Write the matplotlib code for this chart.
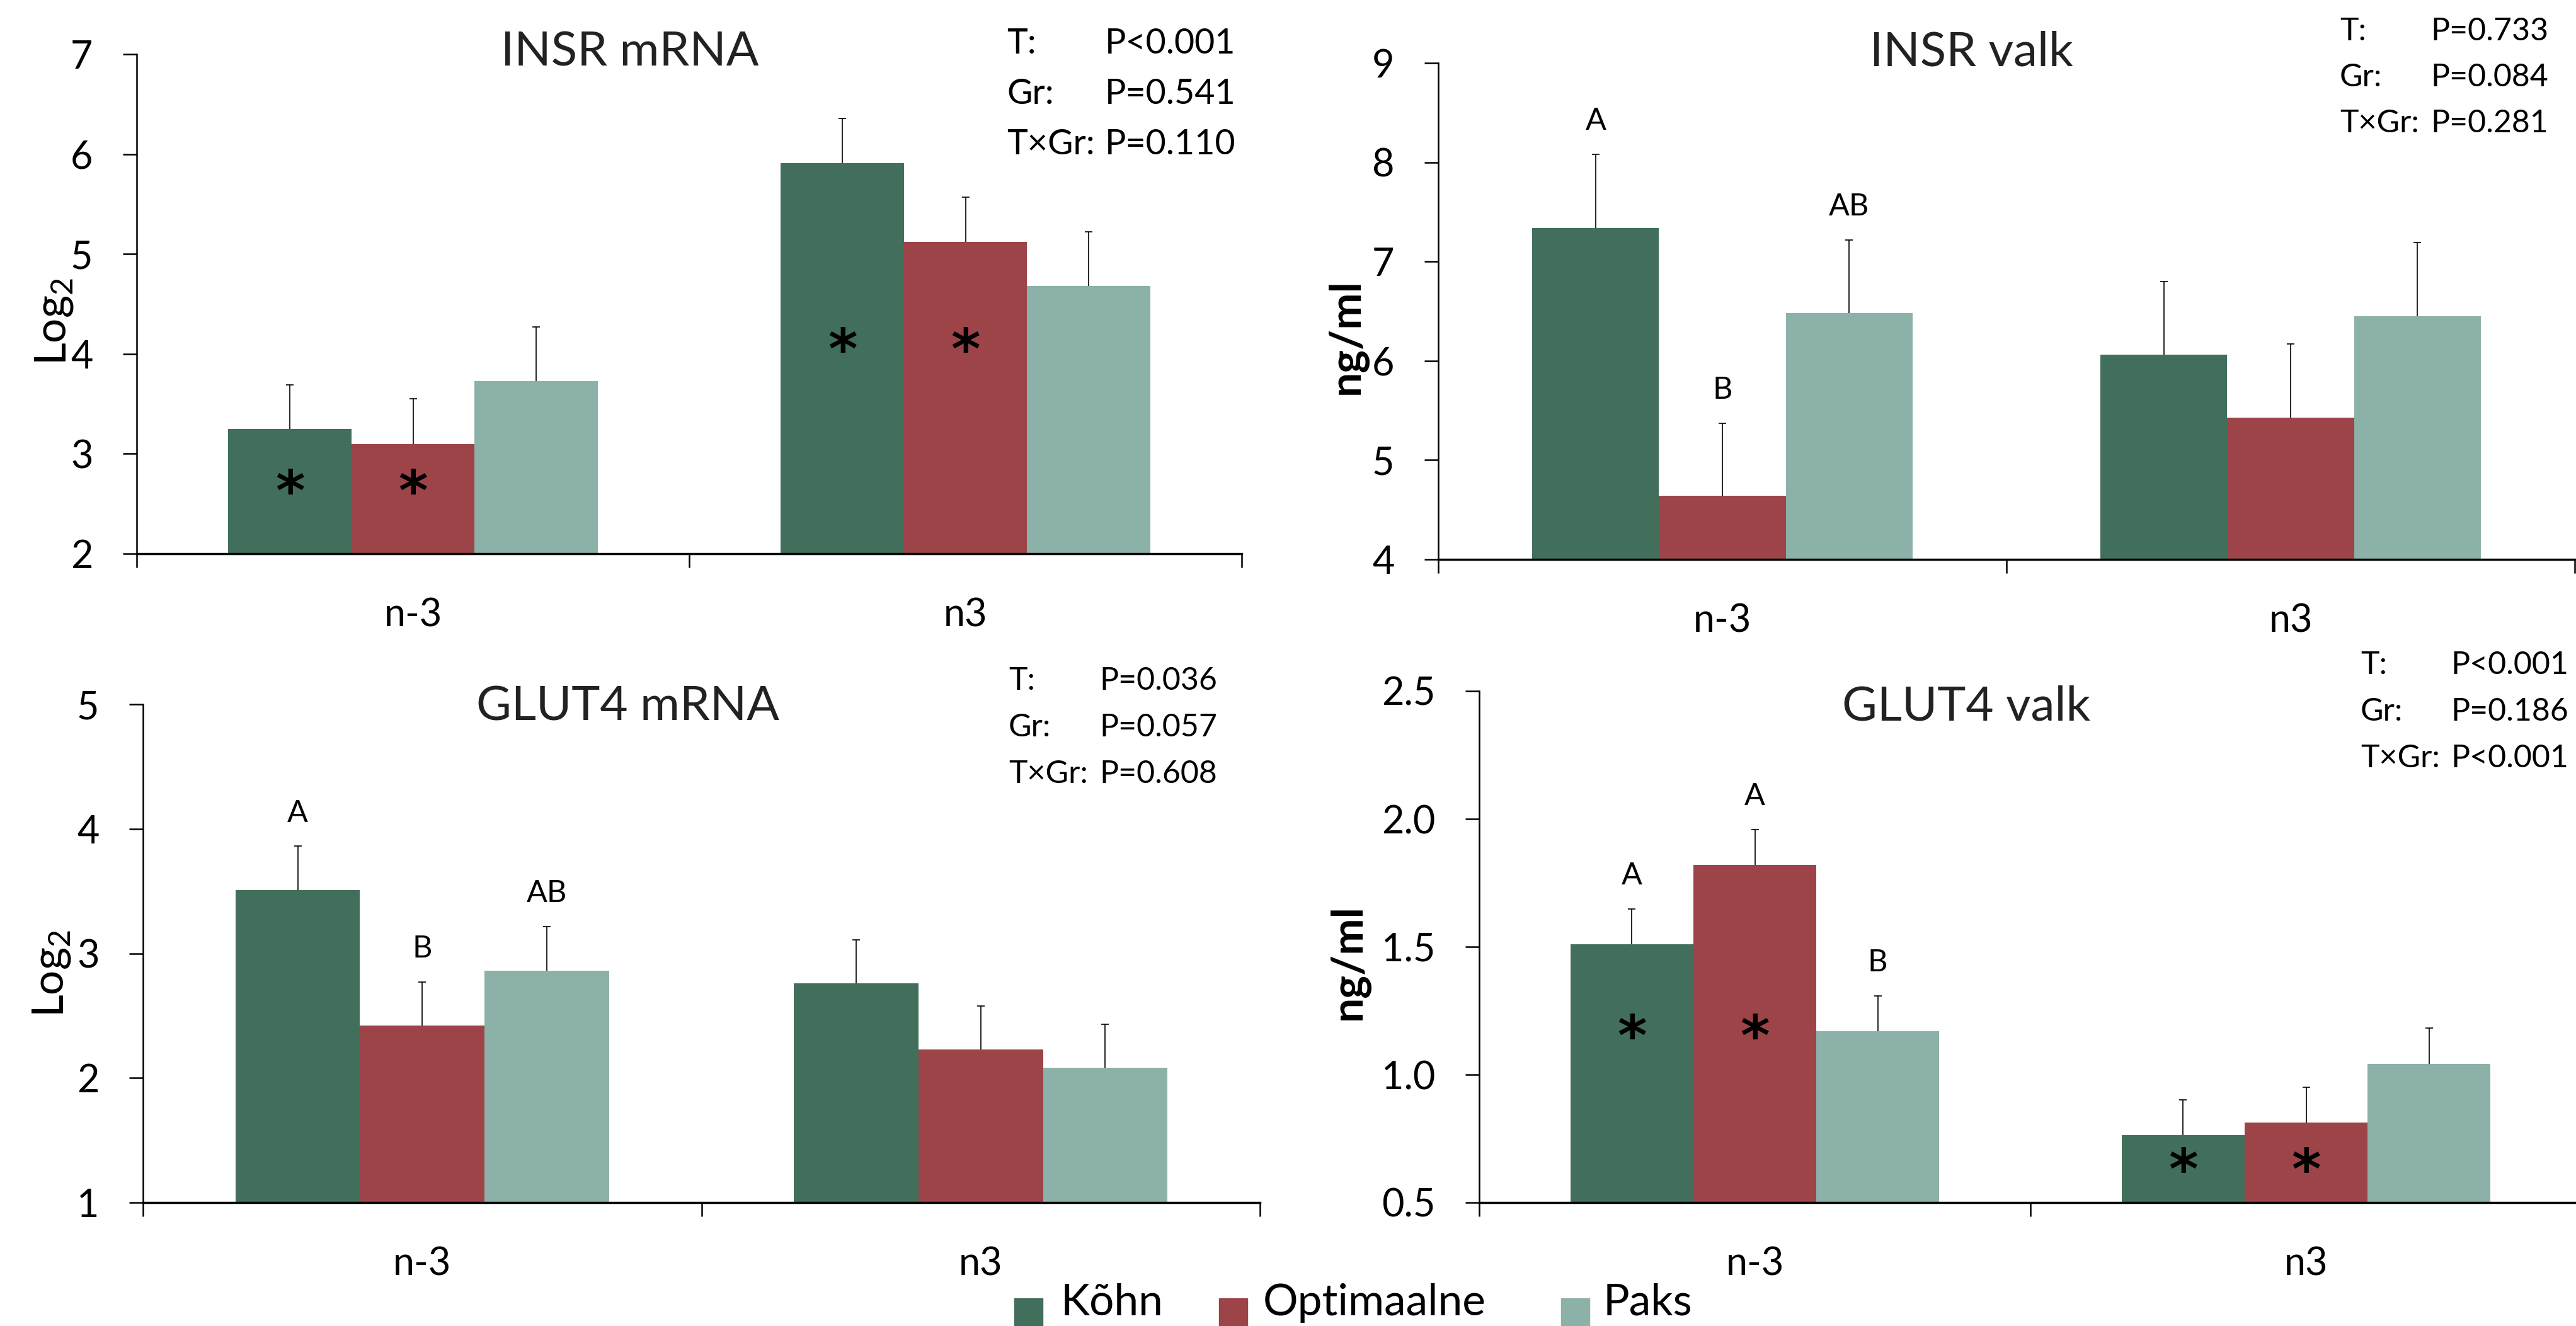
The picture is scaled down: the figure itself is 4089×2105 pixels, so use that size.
import numpy as np
import matplotlib
matplotlib.use('Agg')
import matplotlib.pyplot as plt
from matplotlib.patches import Rectangle

plt.rcParams['font.family'] = ['Lato', 'DejaVu Sans']
plt.rcParams['mathtext.fontset'] = 'custom'
plt.rcParams['mathtext.rm'] = 'Lato'

# andmed: read = rühmad (n-3, n3), veerud = Kõhn, Optimaalne, Paks
groups = ['n-3', 'n3']
series = ['Kõhn', 'Optimaalne', 'Paks']
colors = ['#416F5B', '#9C4448', '#8CB1A8']
p_names = ['T:', 'Gr:', 'T×Gr:']

insr_mrna = [[3.25, 3.10, 3.73], [5.91, 5.12, 4.68]]
insr_mrna_se = [[0.44, 0.45, 0.54], [0.45, 0.45, 0.54]]
insr_mrna_stars = [[1, 1, 0], [1, 1, 0]]
insr_mrna_letters = [['', '', ''], ['', '', '']]
insr_mrna_p = ['P<0.001', 'P=0.541', 'P=0.110']

insr_valk = [[7.34, 4.64, 6.48], [6.06, 5.43, 6.45]]
insr_valk_se = [[0.74, 0.73, 0.74], [0.74, 0.74, 0.74]]
insr_valk_stars = [[0, 0, 0], [0, 0, 0]]
insr_valk_letters = [['A', 'B', 'AB'], ['', '', '']]
insr_valk_p = ['P=0.733', 'P=0.084', 'P=0.281']

glut4_mrna = [[3.51, 2.42, 2.86], [2.76, 2.23, 2.08]]
glut4_mrna_se = [[0.35, 0.35, 0.355], [0.35, 0.35, 0.35]]
glut4_mrna_stars = [[0, 0, 0], [0, 0, 0]]
glut4_mrna_letters = [['A', 'B', 'AB'], ['', '', '']]
glut4_mrna_p = ['P=0.036', 'P=0.057', 'P=0.608']

glut4_valk = [[1.51, 1.82, 1.17], [0.764, 0.812, 1.041]]
glut4_valk_se = [[0.138, 0.139, 0.139], [0.138, 0.139, 0.141]]
glut4_valk_stars = [[1, 1, 0], [1, 1, 0]]
glut4_valk_letters = [['A', 'A', 'B'], ['', '', '']]
glut4_valk_p = ['P<0.001', 'P=0.186', 'P<0.001']

W, H = 4089, 2105
BAR_W = 0.223

fig = plt.figure(figsize=(W / 100, H / 100), dpi=100)


def fx(x):
    return x / W


def fy(y):
    return 1 - y / H


def draw_panel(rect, means, errs, stars, letters, ylim, yticks, fmt,
               title, title_pos, ylabel, ylabel_pos, ylabel_weight,
               pvals, p_x, p_base, p_size):
    l, t, r, b = rect
    ax = fig.add_axes([fx(l), fy(b), (r - l) / W, (b - t) / H])
    means = np.array(means)
    errs = np.array(errs)
    x = np.arange(len(groups))

    for i, name in enumerate(series):
        xi = x + (i - 1) * BAR_W
        tops = means[:, i] + errs[:, i]
        ax.bar(xi, means[:, i], BAR_W, color=colors[i], label=name, zorder=2)
        # ainult ülemine vearibа, kork ainult üleval
        ax.errorbar(xi, means[:, i], yerr=[np.zeros(len(x)), errs[:, i]],
                    fmt='none', ecolor='black', elinewidth=1.2, capsize=0, zorder=3)
        ax.plot(xi, tops, linestyle='none', marker='_', markersize=8,
                markeredgewidth=1.2, color='black', zorder=3)
        for j in range(len(x)):
            if letters[j][i]:
                ax.annotate(letters[j][i], (xi[j], tops[j]),
                            xytext=(0, 38), textcoords='offset points',
                            ha='center', va='center', fontsize=35)

    # tärnid ühel kõrgusel grupi sees
    for j in range(len(x)):
        starred = [i for i in range(len(series)) if stars[j][i]]
        if starred:
            low = min(means[j, i] for i in starred)
            level = ylim[0] + 0.7 * (low - ylim[0])
            for i in starred:
                ax.annotate('*', (x[j] + (i - 1) * BAR_W, level),
                            xytext=(0, -38), textcoords='offset points',
                            ha='center', va='baseline', fontsize=64,
                            family='DejaVu Sans', fontweight='bold', zorder=4)

    ax.set_xlim(-0.5, 1.5)
    ax.set_ylim(ylim)
    ax.set_yticks(yticks)
    ax.set_yticklabels([fmt % v for v in yticks])
    ax.set_xticks(x)
    ax.set_xticklabels(groups)
    ax.set_xticks([-0.5, 0.5, 1.5], minor=True)
    ax.tick_params(axis='x', which='major', length=0, pad=50, labelsize=44)
    ax.tick_params(axis='x', which='minor', length=16, width=1.8, direction='out')
    ax.tick_params(axis='y', length=16, width=1.8, direction='out', pad=34, labelsize=44)
    ax.spines['top'].set_visible(False)
    ax.spines['right'].set_visible(False)
    ax.spines['left'].set_linewidth(1.8)
    ax.spines['bottom'].set_linewidth(2.5)
    ax.spines['bottom'].set_zorder(5)
    ax.patch.set_alpha(0)

    fig.text(fx(title_pos[0]), fy(title_pos[1]), title, ha='center',
             va='baseline', fontsize=55, color='#222222')
    fig.text(fx(ylabel_pos[0]), fy(ylabel_pos[1]), ylabel, rotation=90,
             ha='center', va='center', fontsize=50, fontweight=ylabel_weight)
    for k in range(len(p_names)):
        fig.text(fx(p_x[0]), fy(p_base[k]), p_names[k], ha='left',
                 va='baseline', fontsize=p_size)
        fig.text(fx(p_x[1]), fy(p_base[k]), pvals[k], ha='left',
                 va='baseline', fontsize=p_size)
    return ax


draw_panel((217, 86, 1971, 879), insr_mrna, insr_mrna_se, insr_mrna_stars,
           insr_mrna_letters, (2, 7), [2, 3, 4, 5, 6, 7], '%d',
           'INSR mRNA', (1000, 105), r'Log$_\mathregular{2}$', (86, 510), 'normal',
           insr_mrna_p, (1598, 1754), (85, 165, 245), 40)

draw_panel((2283, 100, 4087, 888), insr_valk, insr_valk_se, insr_valk_stars,
           insr_valk_letters, (4, 9), [4, 5, 6, 7, 8, 9], '%d',
           'INSR valk', (3129, 105), 'ng/ml', (2138, 534), 'bold',
           insr_valk_p, (3714, 3858), (64, 137, 210), 36)

draw_panel((227, 1118, 2000, 1909), glut4_mrna, glut4_mrna_se, glut4_mrna_stars,
           glut4_mrna_letters, (1, 5), [1, 2, 3, 4, 5], '%d',
           'GLUT4 mRNA', (996, 1144), r'Log$_\mathregular{2}$', (82, 1545), 'normal',
           glut4_mrna_p, (1601, 1745), (1095, 1169, 1243), 36)

draw_panel((2348, 1097, 4098, 1909), glut4_valk, glut4_valk_se, glut4_valk_stars,
           glut4_valk_letters, (0.5, 2.5), [0.5, 1.0, 1.5, 2.0, 2.5], '%.1f',
           'GLUT4 valk', (3121, 1144), 'ng/ml', (2141, 1527), 'bold',
           glut4_valk_p, (3747, 3890), (1070, 1144, 1218), 36)

# legend all
leg_box_x = [1610, 1935, 2478]
leg_text_x = [1684, 2005, 2545]
for i, name in enumerate(series):
    fig.add_artist(Rectangle((fx(leg_box_x[i]), fy(2105)), 45 / W, 44 / H,
                             transform=fig.transFigure, color=colors[i]))
    fig.text(fx(leg_text_x[i]), fy(2088), name, ha='left', va='baseline', fontsize=50)

fig.savefig('out.png', dpi=100)
